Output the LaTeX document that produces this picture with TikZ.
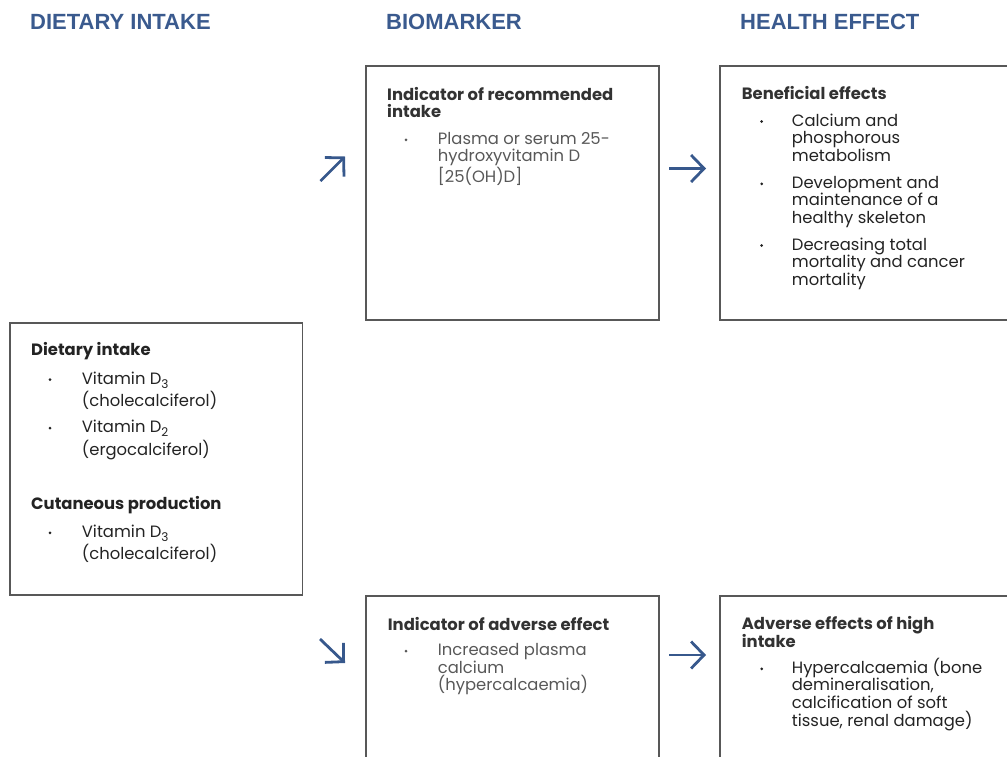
\documentclass[tikz,border=0pt]{standalone}
\usepackage{fontspec}
\setmainfont{Poppins}
\newfontfamily\hdrfont{Liberation Sans}
\usetikzlibrary{arrows.meta}
\definecolor{hblue}{RGB}{58,90,142}
\definecolor{boxgray}{RGB}{88,88,88}
\definecolor{txtgray}{RGB}{88,88,88}
\definecolor{txtdark}{RGB}{35,35,35}
\definecolor{headdark}{RGB}{50,50,50}
\definecolor{arrblue}{RGB}{55,88,140}
\newcommand{\ml}[1]{\parbox[t]{400pt}{\raggedright #1}}
\newcommand{\sub}[1]{\raisebox{-0.45ex}{\fontsize{12}{12}\selectfont #1}}
\begin{document}
\begin{tikzpicture}[x=1pt,y=-1pt,
  hdr/.style={anchor=base west, inner sep=0, font=\hdrfont\bfseries\fontsize{22}{26}\selectfont, text=hblue},
  boxnode/.style={draw=boxgray, line width=1.8pt, anchor=north west, inner sep=0},
  head/.style={anchor=base west, inner sep=0, font=\bfseries\fontsize{16.4}{17.5}\selectfont, text=headdark},
  body/.style={anchor=base west, inner sep=0, font=\fontsize{16.4}{17.6}\selectfont},
  bodyleft/.style={anchor=base west, inner sep=0, font=\fontsize{16.4}{22.5}\selectfont, text=txtdark},
  bul/.style={circle, fill=#1, inner sep=0, minimum size=3pt},
  arr/.style={draw=arrblue, line width=2.8pt, -{Straight Barb[length=13pt,width=27pt]}}
]
\useasboundingbox (0,0) rectangle (1007,756);
\clip (0,0) rectangle (1007,756);

% column headers
\node[hdr] (h1) at (30,29.5) {DIETARY INTAKE};
\node[hdr] (h2) at (386,29.5) {BIOMARKER};
\node[hdr] (h3) at (740,29.5) {HEALTH EFFECT};

% boxes
\node[boxnode, minimum width=293pt, minimum height=254pt] (bio1) at (365,65) {};
\node[boxnode, minimum width=310pt, minimum height=254pt] (hea1) at (719.3,65) {};
\node[boxnode, minimum width=292.5pt, minimum height=272pt] (diet) at (9,321.7) {};
\node[boxnode, minimum width=293pt, minimum height=180pt] (bio2) at (365,595) {};
\node[boxnode, minimum width=310pt, minimum height=180pt] (hea2) at (719.3,595) {};

% arrows
\coordinate (a1s) at (320.5,181);
\coordinate (a1e) at (345,156.5);
\coordinate (a2s) at (669,168.5);
\coordinate (a2e) at (706,168.5);
\coordinate (a3s) at (320,639);
\coordinate (a3e) at (345,663);
\coordinate (a4s) at (669,655);
\coordinate (a4e) at (706,655);
\draw[arr] (a1s) -- (a1e);
\draw[arr] (a2s) -- (a2e);
\draw[arr] (a3s) -- (a3e);
\draw[arr] (a4s) -- (a4e);

% biomarker top
\node[head] (t1) at (387,100) {\ml{Indicator of recommended\\intake}};
\node[bul=txtgray] (t1b) at (406,139.8) {};
\node[body, text=txtgray] (t1t) at (437.7,144.3) {\ml{Plasma or serum 25-\\hydroxyvitamin D\\{[}25(OH)D]}};

% health top
\node[head] (t2) at (741.7,99.3) {Beneficial effects};
\node[bul=txtdark] (t2b1) at (761.7,121.5) {};
\node[body, text=txtdark] (t2t1) at (791.7,126) {\ml{Calcium and\\phosphorous\\metabolism}};
\node[bul=txtdark] (t2b2) at (761.7,183.8) {};
\node[body, text=txtdark] (t2t2) at (791.7,188.3) {\ml{Development and\\maintenance of a\\healthy skeleton}};
\node[bul=txtdark] (t2b3) at (761.7,245.5) {};
\node[body, text=txtdark] (t2t3) at (791.7,250) {\ml{Decreasing total\\mortality and cancer\\mortality}};

% dietary box
\node[head, text=txtdark] (d1) at (31,355.7) {Dietary intake};
\node[bul=txtdark] (d1b1) at (50,379.5) {};
\node[bodyleft] (d1t1) at (81.7,384) {\ml{Vitamin D\sub{3}\\(cholecalciferol)}};
\node[bul=txtdark] (d1b2) at (50,428.2) {};
\node[bodyleft] (d1t2) at (81.7,432.7) {\ml{Vitamin D\sub{2}\\(ergocalciferol)}};
\node[head, text=txtdark] (d2) at (31,509) {Cutaneous production};
\node[bul=txtdark] (d2b1) at (50,532.8) {};
\node[bodyleft] (d2t1) at (81.7,537.3) {\ml{Vitamin D\sub{3}\\(cholecalciferol)}};

% biomarker bottom
\node[head] (t3) at (387.7,630) {Indicator of adverse effect};
\node[bul=txtgray] (t3b) at (406,651.2) {};
\node[body, text=txtgray] (t3t) at (437.7,655.7) {\ml{Increased plasma\\calcium\\(hypercalcaemia)}};

% health bottom
\node[head] (t4) at (741.7,629.3) {\ml{Adverse effects of high\\intake}};
\node[bul=txtdark] (t4b) at (761.7,668.8) {};
\node[body, text=txtdark] (t4t) at (791.7,673.3) {\ml{Hypercalcaemia (bone\\demineralisation,\\calcification of soft\\tissue, renal damage)}};
\end{tikzpicture}
\end{document}
